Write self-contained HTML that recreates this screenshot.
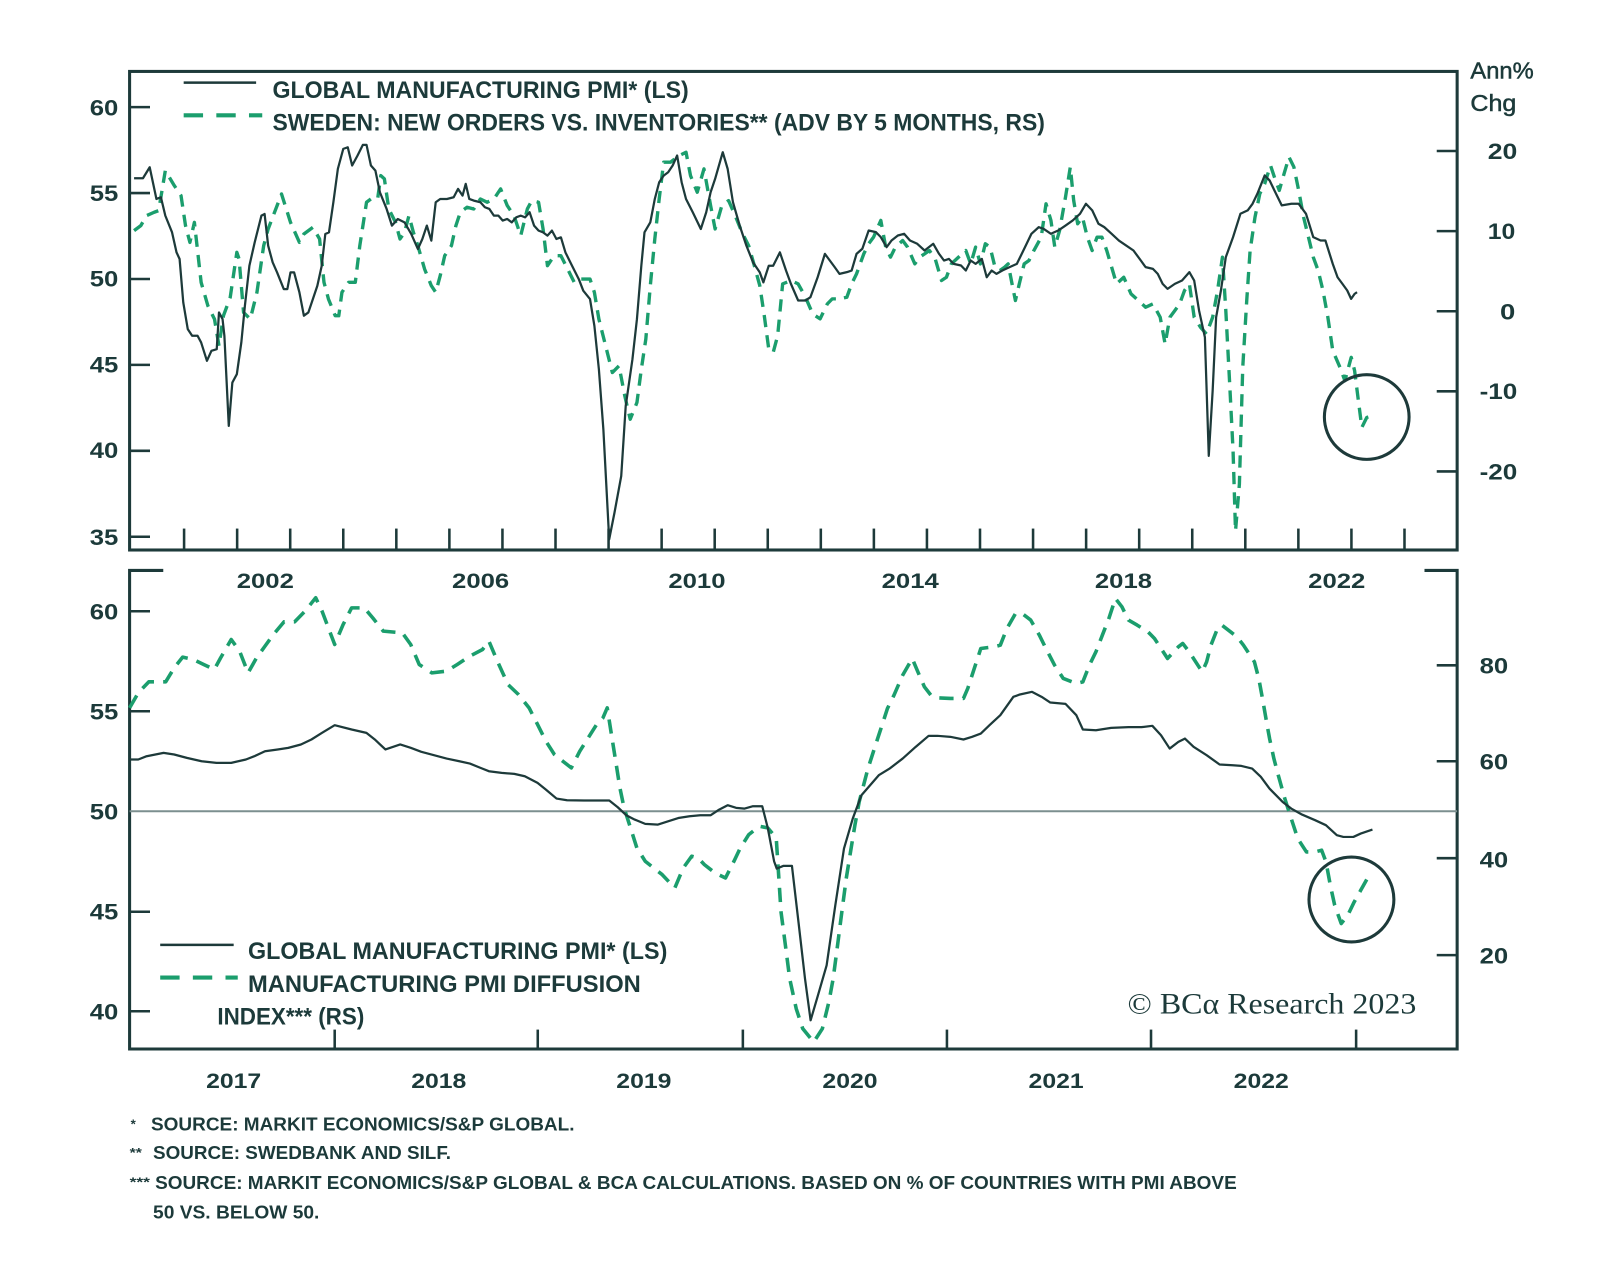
<!DOCTYPE html>
<html>
<head>
<meta charset="utf-8">
<style>
html,body{margin:0;padding:0;background:#fff;}
svg{display:block;}
text{font-family:"Liberation Sans",sans-serif;fill:#1c3a3a;}
.b{font-weight:700;}
</style>
</head>
<body>
<svg width="1600" height="1265" viewBox="0 0 1600 1265" xmlns="http://www.w3.org/2000/svg">
<rect width="1600" height="1265" fill="#fff"/>
<g transform="scale(1.020408)">

<!-- ===== TOP PANEL FRAME ===== -->
<g stroke="#1d3a3a" stroke-width="3" fill="none">
  <rect x="127" y="70" width="1301" height="469"/>
</g>
<g stroke="#1d3a3a" stroke-width="2.5">
  <line x1="127" y1="105" x2="147" y2="105"/>
  <line x1="127" y1="189.2" x2="147" y2="189.2"/>
  <line x1="127" y1="273.4" x2="147" y2="273.4"/>
  <line x1="127" y1="357.6" x2="147" y2="357.6"/>
  <line x1="127" y1="441.8" x2="147" y2="441.8"/>
  <line x1="127" y1="526" x2="147" y2="526"/>
  <line x1="1408" y1="148" x2="1428" y2="148"/>
  <line x1="1408" y1="226.5" x2="1428" y2="226.5"/>
  <line x1="1408" y1="305" x2="1428" y2="305"/>
  <line x1="1408" y1="383.5" x2="1428" y2="383.5"/>
  <line x1="1408" y1="462" x2="1428" y2="462"/>
</g>
<g stroke="#1d3a3a" stroke-width="2.5">
  <line x1="180.4" y1="539" x2="180.4" y2="518"/>
  <line x1="232.4" y1="539" x2="232.4" y2="518"/>
  <line x1="284.4" y1="539" x2="284.4" y2="518"/>
  <line x1="336.4" y1="539" x2="336.4" y2="518"/>
  <line x1="388.4" y1="539" x2="388.4" y2="518"/>
  <line x1="440.4" y1="539" x2="440.4" y2="518"/>
  <line x1="492.4" y1="539" x2="492.4" y2="518"/>
  <line x1="544.4" y1="539" x2="544.4" y2="518"/>
  <line x1="596.4" y1="539" x2="596.4" y2="518"/>
  <line x1="648.4" y1="539" x2="648.4" y2="518"/>
  <line x1="700.4" y1="539" x2="700.4" y2="518"/>
  <line x1="752.4" y1="539" x2="752.4" y2="518"/>
  <line x1="804.4" y1="539" x2="804.4" y2="518"/>
  <line x1="856.4" y1="539" x2="856.4" y2="518"/>
  <line x1="908.4" y1="539" x2="908.4" y2="518"/>
  <line x1="960.4" y1="539" x2="960.4" y2="518"/>
  <line x1="1012.4" y1="539" x2="1012.4" y2="518"/>
  <line x1="1064.4" y1="539" x2="1064.4" y2="518"/>
  <line x1="1116.4" y1="539" x2="1116.4" y2="518"/>
  <line x1="1168.4" y1="539" x2="1168.4" y2="518"/>
  <line x1="1220.4" y1="539" x2="1220.4" y2="518"/>
  <line x1="1272.4" y1="539" x2="1272.4" y2="518"/>
  <line x1="1324.4" y1="539" x2="1324.4" y2="518"/>
  <line x1="1376.4" y1="539" x2="1376.4" y2="518"/>
</g>

<g class="b" font-size="22">
  <text x="88" y="113" textLength="28" lengthAdjust="spacingAndGlyphs">60</text>
  <text x="88" y="197" textLength="28" lengthAdjust="spacingAndGlyphs">55</text>
  <text x="88" y="281" textLength="28" lengthAdjust="spacingAndGlyphs">50</text>
  <text x="88" y="365" textLength="28" lengthAdjust="spacingAndGlyphs">45</text>
  <text x="88" y="449" textLength="28" lengthAdjust="spacingAndGlyphs">40</text>
  <text x="88" y="534" textLength="28" lengthAdjust="spacingAndGlyphs">35</text>
</g>
<g class="b" font-size="22">
  <text x="1458" y="156" textLength="29" lengthAdjust="spacingAndGlyphs">20</text>
  <text x="1458" y="234" textLength="27" lengthAdjust="spacingAndGlyphs">10</text>
  <text x="1470" y="313" textLength="15" lengthAdjust="spacingAndGlyphs">0</text>
  <text x="1450" y="391" textLength="37" lengthAdjust="spacingAndGlyphs">-10</text>
  <text x="1450" y="470" textLength="37" lengthAdjust="spacingAndGlyphs">-20</text>
</g>
<text x="1441" y="77" font-size="23" textLength="62" lengthAdjust="spacingAndGlyphs" stroke="#1c3a3a" stroke-width="0.5">Ann%</text>
<text x="1441" y="109" font-size="23" textLength="45" lengthAdjust="spacingAndGlyphs" stroke="#1c3a3a" stroke-width="0.5">Chg</text>

<g class="b" font-size="21" text-anchor="middle">
  <text x="260" y="576" textLength="56" lengthAdjust="spacingAndGlyphs">2002</text>
  <text x="471" y="576" textLength="56" lengthAdjust="spacingAndGlyphs">2006</text>
  <text x="683" y="576" textLength="56" lengthAdjust="spacingAndGlyphs">2010</text>
  <text x="892" y="576" textLength="56" lengthAdjust="spacingAndGlyphs">2014</text>
  <text x="1101" y="576" textLength="56" lengthAdjust="spacingAndGlyphs">2018</text>
  <text x="1310" y="576" textLength="56" lengthAdjust="spacingAndGlyphs">2022</text>
</g>

<line x1="180" y1="81" x2="251" y2="81" stroke="#1d3a3a" stroke-width="2.5"/>
<line x1="180" y1="113" x2="257" y2="113" stroke="#1b9e6d" stroke-width="4" stroke-dasharray="19 13"/>
<text class="b" x="267" y="96" font-size="24" textLength="408" lengthAdjust="spacingAndGlyphs">GLOBAL MANUFACTURING PMI* (LS)</text>
<text class="b" x="267" y="128" font-size="24" textLength="757" lengthAdjust="spacingAndGlyphs">SWEDEN: NEW ORDERS VS. INVENTORIES** (ADV BY 5 MONTHS, RS)</text>

<polyline fill="none" stroke="#1b9e6d" stroke-width="3.3" stroke-dasharray="12 8" stroke-linejoin="round" points="131.4,226 138,221.1 143.6,211.3 151.1,208 155.5,206.4 162,167.2 170.8,181.9 177.4,191.7 181.8,221.1 186.1,237.5 190.5,217.9 197.1,276.7 203.7,299.6 210.2,312.7 214.6,338.9 219,309.4 225.6,291.5 232.1,247.3 234.3,253.8 238.7,306.2 245.3,312.7 251.8,286.5 258.4,240.8 262.8,224.4 275.9,190.1 284.7,217.9 293.4,237.5 297.8,229.3 306.6,222.8 313.2,234.2 317.5,276.7 321.9,293.1 328.5,309.4 332,309.4 335.1,286.5 341.6,276.7 348.2,276.7 352.6,240.8 359.2,198.2 363.5,195 370.1,195 373.2,172.1 376.7,175.3 381,204.8 387.6,217.9 392,234.2 396.4,227.7 400.8,211.3 405.1,227.7 409.5,240.8 416.1,263.7 422.7,280 427,286.5 431.4,270.2 435.8,250.6 442.4,240.8 446.8,221.1 451.1,208 457.7,203.1 464.3,204.8 470.8,195 477.4,198.2 484,195 490.6,185.1 497.1,201.5 503.7,211.3 510.3,230.9 516.8,204.8 521.2,196.6 527.8,198.2 532.2,224.4 536.5,260.4 543.1,250.6 549.7,250.6 556.3,263.7 562.8,276.7 569.4,273.5 578.2,273.5 582.5,286.5 586.9,312.7 593.5,338.9 600.1,365.1 606.6,358.5 612.3,388 617.6,410.9 624.2,394.5 628.5,361.8 632.9,332.4 637.3,280 641.7,234.2 646,195 650.4,159 657,159 665.8,152.4 672.3,149.2 676.7,172.1 683.3,188.4 689.9,165.5 696.4,201.5 700.8,224.4 707.4,201.5 714,196.6 720.5,211.3 727.1,227.7 733.7,240.8 740.2,263.7 744.6,280 749,309.4 753.4,342.2 757.7,345.4 762.1,329 767,278.2 775.1,274.9 782.2,278.2 789.4,291.3 796.5,307.7 803.7,312.5 810.8,297.8 815.6,292.9 822.7,292.9 829.9,291.3 834.6,278.2 839.4,268.4 846.5,248.8 851.3,238.9 856.1,232.4 863.2,216 868,242.2 872.7,252 877.5,242.2 884.6,235.7 889.4,242.2 896.5,258.6 901.3,252 906.1,248.8 910.8,245.5 916.5,253.7 922.7,274.9 927.5,271.7 932.3,258.6 939.4,252 946.5,245.5 951.3,258.6 956.1,242.2 960.8,258.6 965.6,238.9 970.3,242.2 975.1,261.8 979.9,265.1 984.6,261.8 988,258.6 991.8,278.2 995.1,294.5 998.9,278.2 1003.7,258.6 1008.4,255.3 1013.2,245.5 1020.4,232.4 1025.1,199.7 1029.9,216 1033.7,242.2 1038.4,225.9 1044.2,193.1 1048.9,163.7 1052.2,196.4 1056.1,219.3 1060.8,212.8 1065.6,232.4 1070.3,245.5 1075.1,232.4 1079.9,232.4 1084.6,245.5 1089.4,261.8 1094.2,278.2 1101.3,271.7 1108.4,288 1115.6,294.5 1122.7,301.1 1129.9,297.8 1137,310.9 1141.8,337.1 1146.5,310.9 1151.3,304.4 1156.1,297.8 1160.8,284.7 1165.6,278.2 1170.3,310.9 1176.5,320.7 1182.3,327.3 1188.4,310.9 1193.2,284.7 1198,252 1201.3,304.4 1205.1,376.3 1208.4,441.7 1210.8,520.3 1214.6,474.5 1217.9,360 1221.8,294.5 1225.1,245.5 1229.9,212.8 1234.6,189.9 1239.4,180.1 1245.1,162.1 1248.9,173.5 1253.7,186.6 1258.4,170.2 1263.2,153.9 1268,163.7 1272.7,186.6 1277.5,212.8 1282.3,232.4 1287,252 1291.8,265.1 1296.5,284.7 1301.3,310.9 1306.1,343.6 1313.2,360 1318,373.1 1324.2,350.2 1327.5,363.2 1330.8,389.4 1334.6,418.9 1339.4,409.1 1345.1,407.4"/>
<polyline fill="none" stroke="#1d3a3a" stroke-width="2.2" stroke-linejoin="round" points="131.4,174.7 140.1,174.7 146.7,163.9 153.3,195 157.7,193.3 162,211.3 168.6,227.7 173,247.3 176,253.8 179.6,296.4 184,322.5 188.3,329 193.6,329 197.1,335.6 202.8,353.6 207.2,343.8 212.4,342.2 214.6,306.2 218.1,312.7 219.9,329 224.2,417.4 227.7,374.9 232.1,366.7 236.5,335.6 240,299.6 244.4,260.4 249.6,237.5 256.2,211.3 259.3,209.7 262.8,240.8 267.2,257.1 271.5,266.9 278.1,283.3 281.6,283.3 284.7,266.9 288.2,266.9 293.4,286.5 297.8,309.4 302.2,306.2 306.6,293.1 311,280 315.3,260.4 318.8,229.3 322.4,227.7 326.7,198.2 331.1,165.5 336.4,145.9 340.8,144.3 345.1,162.2 350.4,152.4 355.6,142 359.2,142 363.5,162.2 367.9,167.2 372.3,188.4 378.9,204.8 384.1,221.1 389.8,214.6 396.4,217.9 403,229.3 409.5,244 413.9,234.2 418.3,221.1 422.7,235.8 427,198.2 431.4,195 438,195 444.6,193.3 448.9,185.1 453.3,191.7 456.4,180.2 459.9,195 464.3,196.6 470.8,198.2 475.2,203.1 479.6,204.8 484,211.3 488.4,211.3 492.7,216.2 497.1,214.6 501.5,217.9 505.9,213 510.3,211.3 514.6,213 519,208 523.4,221.1 527.8,226 532.2,227.7 536.5,230.9 540.9,226 545.3,234.2 549.7,232.6 554.1,247.3 560.6,260.4 567.2,273.5 571.6,284.9 578.2,293.1 582.5,319.3 586.9,361.8 591.3,420.7 597,528.6 602.2,502.4 608.8,466.5 613.2,397.8 619.8,352 624.2,312.7 628.5,260.4 631.6,227.7 637.3,217.9 641.7,195 646,178.6 650.4,172.1 654.8,168.8 659.2,162.2 663.6,152.4 668,178.6 672.3,195 678.9,208 686.8,224.4 692.1,208 696.4,188.4 700.8,175.3 708.3,149.2 713.1,165.5 718.3,198.2 724.9,221.1 731.5,240.8 738,257.1 744.6,266.9 748.1,276.7 753.4,260.4 757.7,260.4 764.3,247.3 770.3,265.1 775.1,278.2 782.2,294.5 789.4,294.5 794.2,291.3 801.3,271.7 808.4,248.8 813.2,255.3 818,261.8 822.7,268.4 829.9,266.7 834.6,265.1 839.4,248.8 845.1,243.8 851.3,225.9 858.4,227.5 863.2,232.4 868.9,242.2 873.7,235.7 879.9,230.8 886,229.1 891.8,235.7 898.9,238.9 906.1,245.5 914.6,238.9 920.3,248.8 925.1,255.3 929.9,253.7 934.6,258.6 941.8,260.2 946.5,265.1 951.3,255.3 956.1,258.6 962.2,253.7 967,271.7 971.8,265.1 976.5,268.4 982.3,265.1 989.4,261.8 996.5,258.6 1001.3,248.8 1006.1,238.9 1010.8,229.1 1018,222.6 1022.7,224.2 1029.9,229.1 1037,225.9 1044.2,221 1051.3,216 1058.4,209.5 1064.2,199.7 1070.4,206.2 1076.5,219.3 1082.2,222.6 1089.4,229.1 1096.5,235.7 1103.7,240.6 1110.8,245.5 1118,255.3 1122.7,261.8 1129.9,263.5 1134.6,268.4 1139.4,278.2 1144.2,283.1 1151.3,278.2 1158.4,274.9 1165.6,266.7 1170.3,274.9 1175.1,304.4 1180.8,330.5 1184.6,446.7 1188.4,382.9 1191.8,310.9 1196.5,284.7 1201.3,252 1208.4,232.4 1215.6,209.5 1222.7,206.2 1227.5,199.7 1232.2,189.9 1239.4,171.9 1244.2,176.8 1248.9,186.6 1256.1,201.3 1265.6,199.7 1272.7,199.7 1279.9,209.5 1287,232.4 1294.2,235.7 1298.9,235.7 1306.1,258.6 1310.8,271.7 1315.6,278.2 1320.3,284.7 1324.1,292.9 1327.5,288 1329.9,286.4"/>
<circle cx="1339.4" cy="408.7" r="41.5" fill="none" stroke="#1d3a3a" stroke-width="3"/>

<!-- ===== BOTTOM PANEL FRAME ===== -->
<g stroke="#1d3a3a" stroke-width="3" fill="none">
  <polyline points="160,559 127,559 127,1028 1428,1028 1428,559 1396,559"/>
</g>
<line x1="127" y1="795" x2="1428" y2="795" stroke="#7c8f8f" stroke-width="2"/>
<g stroke="#1d3a3a" stroke-width="2.5">
  <line x1="127" y1="599" x2="147" y2="599"/>
  <line x1="127" y1="697" x2="147" y2="697"/>
  <line x1="127" y1="893.5" x2="147" y2="893.5"/>
  <line x1="127" y1="991" x2="147" y2="991"/>
  <line x1="1408" y1="652" x2="1428" y2="652"/>
  <line x1="1408" y1="746" x2="1428" y2="746"/>
  <line x1="1408" y1="841" x2="1428" y2="841"/>
  <line x1="1408" y1="936" x2="1428" y2="936"/>
  <line x1="328" y1="1028" x2="328" y2="1009"/>
  <line x1="527" y1="1028" x2="527" y2="1009"/>
  <line x1="728" y1="1028" x2="728" y2="1009"/>
  <line x1="928" y1="1028" x2="928" y2="1009"/>
  <line x1="1128" y1="1028" x2="1128" y2="1009"/>
  <line x1="1329" y1="1028" x2="1329" y2="1009"/>
</g>
<g class="b" font-size="22">
  <text x="88" y="607" textLength="28" lengthAdjust="spacingAndGlyphs">60</text>
  <text x="88" y="705" textLength="28" lengthAdjust="spacingAndGlyphs">55</text>
  <text x="88" y="803" textLength="28" lengthAdjust="spacingAndGlyphs">50</text>
  <text x="88" y="901" textLength="28" lengthAdjust="spacingAndGlyphs">45</text>
  <text x="88" y="999" textLength="28" lengthAdjust="spacingAndGlyphs">40</text>
  <text x="1450" y="660" textLength="28" lengthAdjust="spacingAndGlyphs">80</text>
  <text x="1450" y="754" textLength="28" lengthAdjust="spacingAndGlyphs">60</text>
  <text x="1450" y="850" textLength="28" lengthAdjust="spacingAndGlyphs">40</text>
  <text x="1450" y="944" textLength="28" lengthAdjust="spacingAndGlyphs">20</text>
</g>
<g class="b" font-size="21" text-anchor="middle">
  <text x="229" y="1066" textLength="54" lengthAdjust="spacingAndGlyphs">2017</text>
  <text x="430" y="1066" textLength="54" lengthAdjust="spacingAndGlyphs">2018</text>
  <text x="631" y="1066" textLength="54" lengthAdjust="spacingAndGlyphs">2019</text>
  <text x="833" y="1066" textLength="54" lengthAdjust="spacingAndGlyphs">2020</text>
  <text x="1035" y="1066" textLength="54" lengthAdjust="spacingAndGlyphs">2021</text>
  <text x="1236" y="1066" textLength="54" lengthAdjust="spacingAndGlyphs">2022</text>
</g>

<polyline fill="none" stroke="#1b9e6d" stroke-width="3.5" stroke-dasharray="14 9" stroke-linejoin="round" points="127,693.7 135.5,679 145.8,668.2 162.4,668.2 170.7,654.5 179,644 189.3,646.3 199.6,651.2 210,656.1 216.2,644.7 226.6,626.7 234.8,638.1 243.1,659.4 251.4,644.7 259.7,633.2 268,621.8 278.3,609.4 288.7,609.4 299,598.9 309.4,585.8 315.6,598.9 321.8,615.3 328,631.6 336.3,612 344.6,595.7 357,595.7 365.3,605.5 375.6,618.5 394.3,620.2 402.5,631.6 410.8,651.2 423.2,659.4 437.7,657.7 448.1,651.2 460.5,643 472.9,636.5 479.1,628.3 487.4,647.9 497.8,670.8 508.1,680.6 518.5,693.7 526.8,710 535,726.4 543.3,739.4 551.6,746 559.9,752.5 568.2,736.2 576.4,723.1 584.7,710 590.9,703.5 595.1,693.7 599.2,719.8 603.4,746 607.5,772.1 611.6,791.7 617.9,811.3 624.1,830.9 632.3,844 640.6,850.6 648.9,857.1 661.3,870.2 669.6,850.6 677.9,839.1 684.1,840.8 690.3,847.3 700.7,855.5 711,860.4 719.3,844 725.5,831 733.8,817.9 744.1,809.7 752.4,811.3 760.7,821.1 763.3,861 765.4,893.7 769.7,926.4 773.9,959.1 780.3,988.5 786.7,1008.1 797.4,1021.2 805.9,1008.1 812.3,981.9 816.5,959.1 820.8,926.4 825,893.7 829.3,861 833.5,834.9 837.8,808.7 842,785.8 850.6,753.2 856.9,733.6 863.3,714 869.7,694.3 876.1,681.3 884.6,661.7 894,645.3 899.5,658.4 905.9,673.1 912.3,681.3 918.6,683.9 931.4,684.5 944.2,684.5 948.4,674.7 954.8,655.1 961.2,635.5 974,633.9 980.3,632.3 986.7,616.1 995.2,601.2 1001.6,601.2 1010.1,607.7 1018.6,622.5 1025,635.5 1033.5,651.9 1042,664.9 1054.8,669.8 1061.2,668.2 1067.6,651.9 1074,638.8 1080.3,622.5 1086.7,606.1 1093.1,586.5 1099.5,594.7 1105.9,607.7 1114.4,612.6 1125,619.2 1131.4,625.7 1137.8,635.5 1144.2,645.3 1154.8,633.9 1159.1,630.6 1165.4,638.8 1173.9,651.9 1178.2,658.4 1182.5,648.6 1186.7,632.3 1193.1,616.1 1197.4,612.6 1205.9,619.2 1212.3,624.1 1218.6,632.3 1225,642 1229.3,648.6 1233.6,664.9 1237.8,687.8 1241.2,707.4 1244.2,723.8 1248.4,743.4 1252.7,759.7 1259.1,782.6 1265.4,802.2 1271.8,821.8 1280.3,834.9 1288.8,834.9 1295.2,833.2 1299.5,844.7 1303.7,867.5 1308,887.2 1314.4,905.1 1320.8,897 1327.1,883.9 1333.5,872.5 1339.9,861"/>
<polyline fill="none" stroke="#1d3a3a" stroke-width="2.2" stroke-linejoin="round" points="127,744.3 135.5,744.3 143.7,741.1 160.3,737.8 170.7,739.4 183.1,742.7 197.6,746 212.1,747.6 226.6,747.6 241,744.3 249.3,741.1 259.7,736.2 272.1,734.5 282.5,732.9 294.9,729.6 305.2,724.7 315.6,718.2 328,710.7 344.6,714.9 359.1,718.2 367.3,724.7 377.7,734.5 392.2,729.6 402.5,732.9 412.9,736.8 425.3,740.1 437.7,743.4 450.2,746 460.5,748.3 470.9,752.5 479.1,755.8 491.6,757.4 504,758.4 514.3,760.7 526.8,767.2 535,773.8 545.4,782.6 555.7,784.2 572.3,784.5 584.7,784.5 597.1,784.5 605.4,791.1 613.7,798.9 622,803.2 632.3,807.4 644.8,808.1 655.1,804.8 665.5,801.5 675.8,799.9 686.2,798.9 696.5,798.9 704.8,793.4 713.1,789.1 721.4,791.7 729.7,792.4 737.9,790.1 747,790.1 752.4,811.3 758.6,844 761.2,851.2 767.6,848.6 776.1,848.6 782.5,903.5 788.9,959.1 794.4,999.9 801.6,975.4 810.1,946 818.6,887.2 827.1,831.6 835.7,802.2 844.2,779.3 852.7,769.5 861.2,759.7 871.8,753.2 884.6,743.4 897.4,731.9 910.1,721.1 918.6,721.1 931.4,722.1 944.2,724.7 952.7,722.1 961.2,718.9 969.7,710.7 980.3,700.9 993.1,682.9 999.5,680.6 1011.4,678 1020.8,682.9 1029.3,688.5 1044.2,689.8 1054.8,700.9 1061.2,714.9 1074,715.6 1088.9,713.3 1105.9,712.6 1118.6,712.6 1129.3,711.3 1137.8,720.5 1146.3,733.6 1154.8,727 1161.2,723.8 1169.7,731.9 1182.5,740.1 1195.2,749.2 1208,749.9 1216.5,750.6 1227.1,753.2 1235.6,761.3 1244.1,772.8 1256.9,785.8 1265.4,792.4 1276,798.3 1288.8,803.8 1299.4,808.7 1310.1,818.5 1316.5,820.2 1326.3,820.2 1333.5,816.9 1345,813"/>
<circle cx="1324.4" cy="881.5" r="41.6" fill="none" stroke="#1d3a3a" stroke-width="3"/>

<line x1="157" y1="926" x2="229" y2="926" stroke="#1d3a3a" stroke-width="2.5"/>
<line x1="157" y1="958" x2="233" y2="958" stroke="#1b9e6d" stroke-width="4" stroke-dasharray="19 13"/>
<text class="b" x="243" y="940" font-size="24" textLength="411" lengthAdjust="spacingAndGlyphs">GLOBAL MANUFACTURING PMI* (LS)</text>
<text class="b" x="243" y="972" font-size="24" textLength="385" lengthAdjust="spacingAndGlyphs">MANUFACTURING PMI DIFFUSION</text>
<text class="b" x="213" y="1004" font-size="24" textLength="144" lengthAdjust="spacingAndGlyphs">INDEX*** (RS)</text>

<text x="1105" y="993" font-size="29" textLength="283" lengthAdjust="spacingAndGlyphs" style="font-family:'Liberation Serif',serif">© BCα Research 2023</text>

<g class="b" font-size="18">
  <text x="128" y="1106" font-size="13">*</text>
  <text x="148" y="1108" textLength="415" lengthAdjust="spacingAndGlyphs">SOURCE: MARKIT ECONOMICS/S&amp;P GLOBAL.</text>
  <text x="127" y="1134" font-size="13" textLength="12" lengthAdjust="spacingAndGlyphs">**</text>
  <text x="150" y="1136" textLength="292" lengthAdjust="spacingAndGlyphs">SOURCE: SWEDBANK AND SILF.</text>
  <text x="127" y="1163" font-size="13" textLength="20" lengthAdjust="spacingAndGlyphs">***</text>
  <text x="152" y="1165" textLength="1060" lengthAdjust="spacingAndGlyphs">SOURCE: MARKIT ECONOMICS/S&amp;P GLOBAL &amp; BCA CALCULATIONS. BASED ON % OF COUNTRIES WITH PMI ABOVE</text>
  <text x="150" y="1194" textLength="163" lengthAdjust="spacingAndGlyphs">50 VS. BELOW 50.</text>
</g>
</g>
</svg>
</body>
</html>
